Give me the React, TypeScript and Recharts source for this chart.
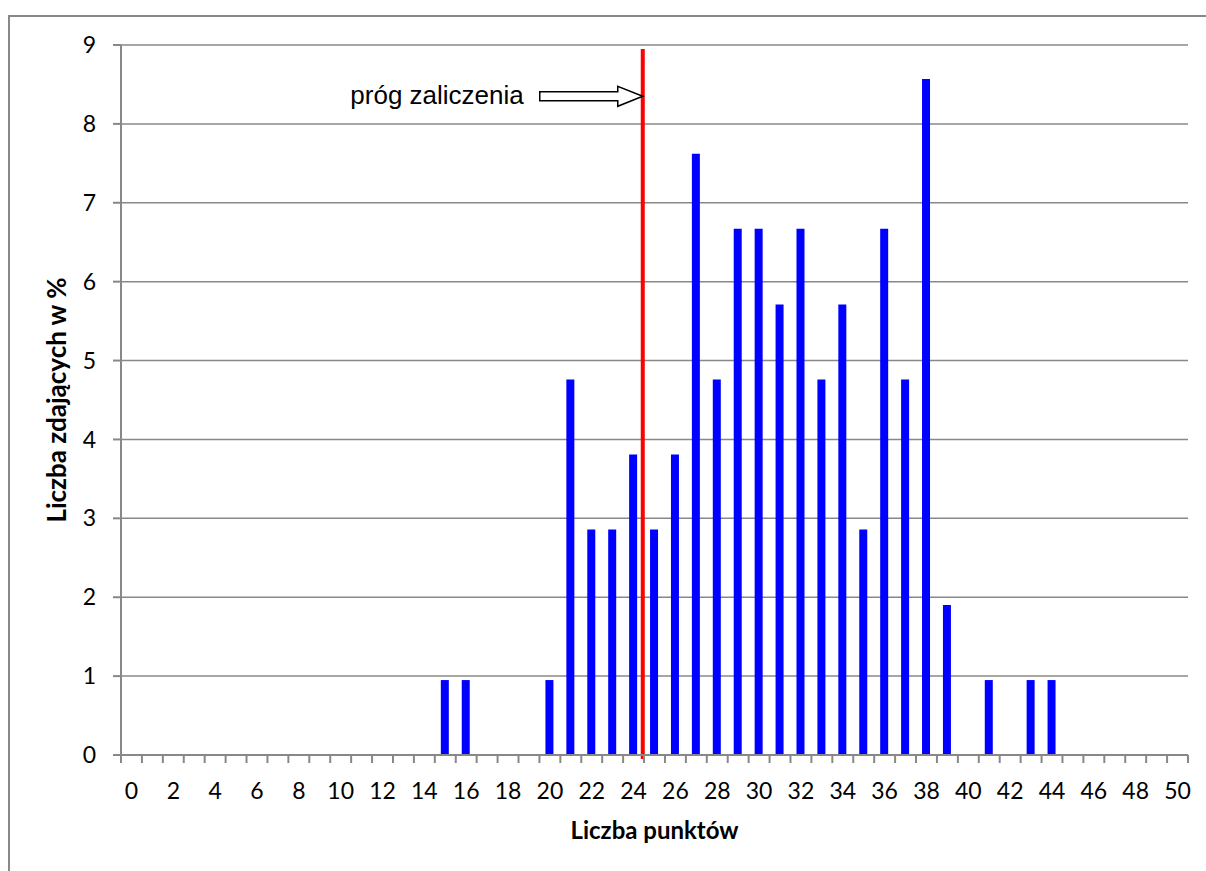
import React from 'react';
import {
  BarChart,
  Bar,
  XAxis,
  YAxis,
  CartesianGrid,
  ReferenceLine,
  ReferenceDot,
} from 'recharts';

// points scored (categories on the x axis)
const scores = [
  0, 1, 2, 3, 4, 5, 6, 7, 8, 9, 10, 11, 12, 13, 14, 15, 16, 17, 18, 19, 20, 21, 22, 23, 24, 25,
  26, 27, 28, 29, 30, 31, 32, 33, 34, 35, 36, 37, 38, 39, 40, 41, 42, 43, 44, 45, 46, 47, 48, 49, 50,
];

// share of students with that score, in %
const percents = [
  0, 0, 0, 0, 0, 0, 0, 0, 0, 0, 0, 0, 0, 0, 0, 0.95, 0.95, 0, 0, 0, 0.95, 4.76, 2.86, 2.86, 3.81, 2.86,
  3.81, 7.62, 4.76, 6.67, 6.67, 5.71, 6.67, 4.76, 5.71, 2.86, 6.67, 4.76, 8.57, 1.9, 0, 0.95, 0, 0.95, 0.95, 0, 0, 0, 0, 0, 0,
];

const yTicks = [0, 1, 2, 3, 4, 5, 6, 7, 8, 9];

// pass threshold (between 24 and 25 points) and the arrow annotation
const threshold = 24.45;
const thresholdLineFrom = -0.05;
const thresholdLineTo = 8.95;
const arrowLevel = 8.35;
const arrowText = 'próg zaliczenia';

const data = scores.map((s, i) => ({ score: s, pct: percents[i] }));

const W = 1206;
const H = 871;
const M = { top: 45, right: 18, bottom: 86, left: 61 };
const Y_AXIS_W = 60;
const PLOT_W = W - M.left - Y_AXIS_W - M.right;
const GRAY = '#888888';
const FONT = 'Lato, "Open Sans", sans-serif';

const XTick = (props: any) => {
  const { x, y, payload, index } = props;
  const half = PLOT_W / scores.length / 2;
  const v = Number(payload.value);
  return (
    <g>
      <line x1={x - half} x2={x - half} y1={y} y2={y + 8} stroke={GRAY} strokeWidth={2} />
      {index === scores.length - 1 && (
        <line x1={x + half} x2={x + half} y1={y} y2={y + 8} stroke={GRAY} strokeWidth={2} />
      )}
      {v % 2 === 0 && (
        <text x={x} y={y + 44} textAnchor="middle" fontSize={23} fontFamily={FONT} fill="#000">
          {v}
        </text>
      )}
    </g>
  );
};

const XTitle = (props: any) => {
  const vb = props.viewBox;
  return (
    <text
      x={vb.x + vb.width / 2}
      y={839}
      textAnchor="middle"
      fontSize={24}
      fontWeight="bold"
      fontFamily={FONT}
      fill="#000"
    >
      Liczba punktów
    </text>
  );
};

const YTitle = (props: any) => {
  const vb = props.viewBox;
  const cy = vb.y + vb.height / 2;
  return (
    <text
      x={56}
      y={cy}
      transform={`rotate(-90, 56, ${cy})`}
      textAnchor="middle"
      dominantBaseline="central"
      fontSize={26}
      fontWeight="bold"
      fontFamily={FONT}
      fill="#000"
    >
      Liczba zdających w %
    </text>
  );
};

const ArrowNote = (props: any) => {
  const { cx, cy } = props;
  const pts = [
    [cx - 103, cy - 4.5],
    [cx - 25, cy - 4.5],
    [cx - 25, cy - 10],
    [cx, cy],
    [cx - 25, cy + 10],
    [cx - 25, cy + 4.5],
    [cx - 103, cy + 4.5],
  ]
    .map((p) => p.join(','))
    .join(' ');
  return (
    <g>
      <text
        x={cx - 119}
        y={cy + 8}
        textAnchor="end"
        fontSize={26}
        fontFamily='"Liberation Sans", Arial, sans-serif'
        fill="#000"
      >
        {arrowText}
      </text>
      <polygon points={pts} fill="#fff" stroke="#000" strokeWidth={1.5} />
    </g>
  );
};

const App: React.FC = () => {
  return (
    <div
      style={{
        position: 'absolute',
        left: 0,
        top: 0,
        width: W,
        height: H,
        overflow: 'hidden',
        background: '#fff',
      }}
    >
      <div
        style={{
          position: 'absolute',
          left: 8,
          top: 15,
          width: 1300,
          height: 1000,
          borderLeft: `2px solid ${GRAY}`,
          borderTop: `2px solid ${GRAY}`,
        }}
      />
      <div style={{ position: 'absolute', left: 0, top: 0 }}>
        <BarChart width={W} height={H} data={data} margin={M} barCategoryGap={0}>
          <CartesianGrid vertical={false} stroke={GRAY} strokeWidth={1.5} />
          <XAxis
            dataKey="score"
            interval={0}
            tick={<XTick />}
            tickLine={false}
            tickSize={0}
            tickMargin={0}
            height={30}
            axisLine={{ stroke: GRAY, strokeWidth: 2 }}
            label={{ content: <XTitle /> }}
          />
          <XAxis
            xAxisId="t"
            type="number"
            domain={[-0.5, 50.5]}
            allowDataOverflow
            hide
          />
          <YAxis
            width={Y_AXIS_W}
            domain={[0, 9]}
            ticks={yTicks}
            interval={0}
            tickSize={8}
            tickMargin={17}
            axisLine={{ stroke: GRAY, strokeWidth: 2 }}
            tickLine={{ stroke: GRAY, strokeWidth: 2 }}
            tick={{ fontSize: 23, fill: '#000', fontFamily: FONT }}
            label={{ content: <YTitle /> }}
          />
          <Bar dataKey="pct" fill="#0000ff" barSize={8} isAnimationActive={false} />
          <ReferenceLine
            xAxisId="t"
            segment={[
              { x: threshold, y: thresholdLineFrom },
              { x: threshold, y: thresholdLineTo },
            ]}
            stroke="#ff0000"
            strokeWidth={4}
            ifOverflow="visible"
          />
          <ReferenceDot
            xAxisId="t"
            x={threshold}
            y={arrowLevel}
            ifOverflow="visible"
            shape={<ArrowNote />}
          />
        </BarChart>
      </div>
    </div>
  );
};

export default App;
